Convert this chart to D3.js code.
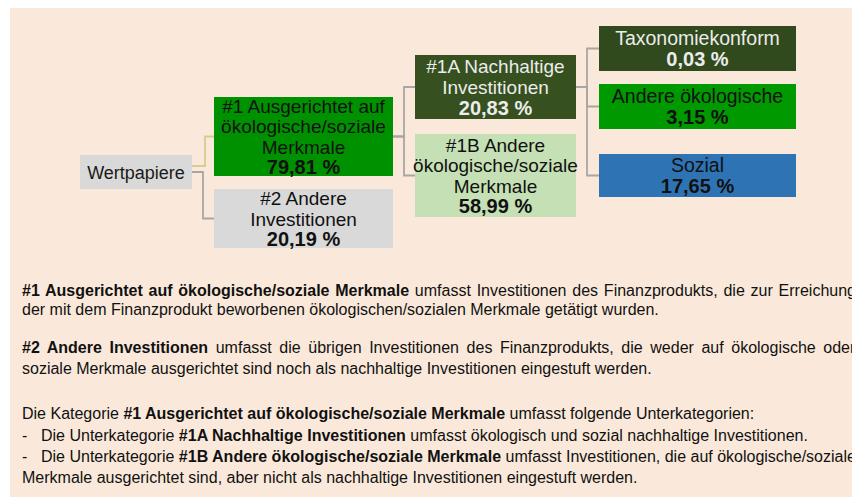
<!DOCTYPE html>
<html>
<head>
<meta charset="utf-8">
<script src="https://cdn.jsdelivr.net/npm/d3@7"></script>
<style>
  html, body { margin: 0; padding: 0; background: #fff; }
  svg { display: block; font-family: "Liberation Sans", Arial, sans-serif; }
</style>
</head>
<body>
<div id="chart"></div>
<script>
// tree nodes
var nodeIds = ["root", "n1", "n2", "n1A", "n1B", "tax", "envOther", "social"];
var nodeParents = [null, "root", "root", "n1", "n1", "n1A", "n1A", "n1A"];
var nodeLabels = [
    ["Wertpapiere"],
    ["#1 Ausgerichtet auf", "ökologische/soziale", "Merkmale"],
    ["#2 Andere", "Investitionen"],
    ["#1A Nachhaltige", "Investitionen"],
    ["#1B Andere", "ökologische/soziale", "Merkmale"],
    ["Taxonomiekonform"],
    ["Andere ökologische"],
    ["Sozial"]
];
var nodeValues = [null, 79.81, 20.19, 20.83, 58.99, 0.03, 3.15, 17.65];

// explanation text below the diagram, [text, bold] runs per line
var notes = [
    [["#1 Ausgerichtet auf ökologische/soziale Merkmale", true], [" umfasst Investitionen des Finanzprodukts, die zur Erreichung", false]],
    [["der mit dem Finanzprodukt beworbenen ökologischen/sozialen Merkmale getätigt wurden.", false]],
    null,
    [["#2 Andere Investitionen", true], [" umfasst die übrigen Investitionen des Finanzprodukts, die weder auf ökologische oder", false]],
    [["soziale Merkmale ausgerichtet sind noch als nachhaltige Investitionen eingestuft werden.", false]],
    null,
    [["Die Kategorie ", false], ["#1 Ausgerichtet auf ökologische/soziale Merkmale", true], [" umfasst folgende Unterkategorien:", false]],
    [["-", false], ["Die Unterkategorie ", false], ["#1A Nachhaltige Investitionen", true], [" umfasst ökologisch und sozial nachhaltige Investitionen.", false]],
    [["-", false], ["Die Unterkategorie ", false], ["#1B Andere ökologische/soziale Merkmale", true], [" umfasst Investitionen, die auf ökologische/soziale", false]],
    [["Merkmale ausgerichtet sind, aber nicht als nachhaltige Investitionen eingestuft werden.", false]]
];
// lines that wrap inside a paragraph are set justified
var noteJustify = [true, false, false, true, false, false, false, false, true, false];

// box layout / styling
var boxStyle = {
    root:     {col: 0, top: 155, h: 34, fill: "#d9d9d9", text: "#1a1a1a"},
    n1:       {col: 1, top: 97,  h: 79, fill: "#009100", text: "#111"},
    n2:       {col: 1, top: 189, h: 59, fill: "#d9d9d9", text: "#111"},
    n1A:      {col: 2, top: 55,  h: 64, fill: "#365020", text: "#ececec"},
    n1B:      {col: 2, top: 134, h: 83, fill: "#c5e0b4", text: "#111"},
    tax:      {col: 3, top: 26,  h: 45, fill: "#30491d", text: "#ececec"},
    envOther: {col: 3, top: 84,  h: 45, fill: "#009900", text: "#111"},
    social:   {col: 3, top: 154, h: 43, fill: "#2e74b5", text: "#111"}
};
var colLeft = [80, 214, 415, 599];
var colRight = [192, 393, 576, 796];

var width = 852, height = 498;

var svg = d3.select("#chart").append("svg")
    .attr("width", width)
    .attr("height", height);

svg.append("rect")
    .attr("x", 10).attr("y", 8)
    .attr("width", width - 10).attr("height", 489)
    .attr("fill", "#fae9da");

var de = d3.formatLocale({decimal: ",", thousands: ".", grouping: [3], currency: ["", " €"]});
var fmt = de.format(".2f");

var nodes = nodeIds.map(function(id, i) {
    var s = boxStyle[id];
    return {
        id: id, parent: nodeParents[i], lines: nodeLabels[i], value: nodeValues[i],
        x0: colLeft[s.col], x1: colRight[s.col], y0: s.top, y1: s.top + s.h,
        cy: s.top + s.h / 2, style: s
    };
});
var byId = {};
nodes.forEach(function(d) { byId[d.id] = d; });

// connectors
var elbowX = {root: [205, 203], n1: [404, 404], n1A: [587, 587, 587]};
var links = [];
nodeIds.forEach(function(id) {
    var kids = nodes.filter(function(d) { return d.parent === id; });
    kids.forEach(function(k, j) {
        var p = byId[id];
        var py = p.cy;
        if (id === "root") py = j === 0 ? p.cy - 6 : p.cy;
        links.push({
            x0: p.x1, y0: py, xm: elbowX[id][j], x1: k.x0, y1: k.cy,
            color: (id === "root" && j === 0) ? "#d8cd8e" : "#a8a6a3"
        });
    });
});

svg.selectAll(".link")
    .data(links)
    .enter().append("path")
    .attr("class", "link")
    .attr("fill", "none")
    .attr("stroke", function(d) { return d.color; })
    .attr("stroke-width", 1.8)
    .attr("d", function(d) {
        return "M" + d.x0 + "," + d.y0 + "H" + d.xm + "V" + d.y1 + "H" + d.x1;
    });

var box = svg.selectAll(".box")
    .data(nodes)
    .enter().append("g")
    .attr("class", "box");

box.append("rect")
    .attr("x", function(d) { return d.x0; })
    .attr("y", function(d) { return d.y0; })
    .attr("width", function(d) { return d.x1 - d.x0; })
    .attr("height", function(d) { return d.y1 - d.y0; })
    .attr("fill", function(d) { return d.style.fill; });

var lineH = 20.6;
box.each(function(d) {
    var g = d3.select(this);
    var rows = d.lines.map(function(t) { return {t: t, bold: false}; });
    if (d.value != null) rows.push({t: fmt(d.value) + " %", bold: true});
    var n = rows.length;
    g.selectAll("text")
        .data(rows)
        .enter().append("text")
        .attr("x", (d.x0 + d.x1) / 2)
        .attr("y", function(r, i) { return d.cy + 7 + (i - (n - 1) / 2) * lineH; })
        .attr("text-anchor", "middle")
        .attr("font-size", function(r) {
            if (r.bold) return 20;
            if (d.id === "root") return 18;
            return d.style.col === 3 ? 19.5 : 19;
        })
        .attr("font-weight", function(r) { return r.bold ? "bold" : "normal"; })
        .attr("fill", d.style.text)
        .text(function(r) { return r.t; });
});

// notes
var noteY = [296, 315, null, 353, 374, null, 419, 440.5, 462, 483];
var noteRight = 856;
notes.forEach(function(runs, i) {
    if (!runs) return;
    var t = svg.append("text")
        .attr("x", 22)
        .attr("y", noteY[i])
        .attr("font-size", 16)
        .attr("fill", "#111");
    var spaces = 0;
    runs.forEach(function(r, j) {
        var ts = t.append("tspan")
            .attr("font-weight", r[1] ? "bold" : "normal")
            .text(r[0]);
        if (j === 1 && runs[0][0] === "-") ts.attr("x", 41);
        spaces += (r[0].match(/ /g) || []).length;
    });
    if (noteJustify[i] && spaces > 0) {
        var bb = t.node().getBBox();
        var extra = noteRight - (bb.x + bb.width);
        if (extra > 0) t.style("word-spacing", (extra / spaces) + "px");
    }
});
</script>
</body>
</html>
